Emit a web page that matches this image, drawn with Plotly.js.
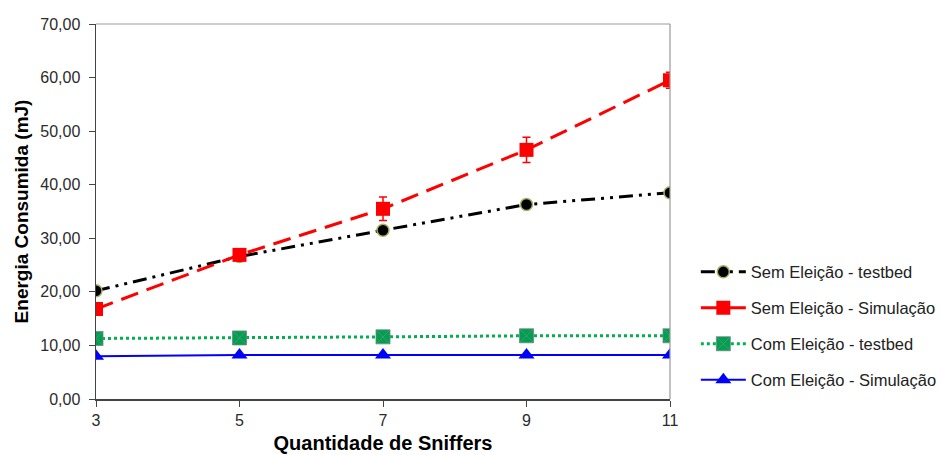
<!DOCTYPE html>
<html>
<head>
<meta charset="utf-8">
<script src="https://cdn.plot.ly/plotly-3.0.1.min.js"></script>
<style>html,body{margin:0;padding:0;background:#fff;}#chart{width:941px;height:455px;}</style>
</head>
<body>
<div id="chart"></div>
<script>
const sniffers = [3, 5, 7, 9, 11];
const semTestbed = [20.2, 26.6, 31.5, 36.3, 38.5];
const semSimulacao = [16.8, 26.9, 35.5, 46.5, 59.5];
const semSimulacaoErr = [0, 0.8, 2.2, 2.35, 1.5];
const comTestbed = [11.3, 11.4, 11.6, 11.8, 11.8];
const comSimulacao = [8.0, 8.2, 8.2, 8.2, 8.2];
const names = ['Sem Eleição - testbed', 'Sem Eleição - Simulação', 'Com Eleição - testbed', 'Com Eleição - Simulação'];

const traces = [
  {x: sniffers, y: semTestbed, name: names[0], legendgroup: 'a', mode: 'lines+markers',
   line: {color: '#000', width: 3, dash: '14px,6px,3px,6px,3px,6px'},
   marker: {symbol: 'circle', size: 12, color: '#000', line: {color: '#a8b060', width: 1.5}}},
  {x: sniffers, y: semSimulacao, name: names[1], legendgroup: 'b', mode: 'lines+markers',
   line: {color: '#ff0000', width: 3, dash: '18px,9px'},
   marker: {symbol: 'square', size: 14, color: '#ff0000'},
   error_y: {type: 'data', array: semSimulacaoErr, visible: true, color: '#ff0000', thickness: 1.5, width: 4}},
  {x: sniffers, y: comTestbed, name: names[2], legendgroup: 'c', mode: 'lines+markers',
   line: {color: '#00b050', width: 3, dash: 'dot'},
   marker: {symbol: 'square-x', size: 14, color: '#00a050', line: {color: '#6a8a80', width: 0.8}}},
  {x: sniffers, y: comSimulacao, name: names[3], legendgroup: 'd', mode: 'lines+markers',
   line: {color: '#0000ff', width: 2},
   marker: {symbol: 'triangle-up', size: 14, color: '#0000ff'}}
];

const layout = {
  width: 941, height: 455,
  margin: {l: 96, r: 271, t: 24, b: 56, autoexpand: false},
  paper_bgcolor: '#fff', plot_bgcolor: '#fff',
  separators: ',.',
  font: {family: 'Liberation Sans, Arial, sans-serif', size: 16, color: '#2b2b2b'},
  showlegend: true,
  legend: {x: 1.045, y: 0.385, xanchor: 'left', yanchor: 'top',
           font: {size: 16.5, color: '#222'}, traceorder: 'grouped', tracegroupgap: 11.5, itemwidth: 45,
           bgcolor: 'rgba(0,0,0,0)'},
  xaxis: {range: [3, 11], tickvals: sniffers, ticktext: sniffers.map(String),
          showgrid: false, zeroline: false, showline: true, linecolor: '#444', linewidth: 1.5,
          ticks: 'outside', ticklen: 6, tickcolor: '#444', mirror: false,
          tickfont: {size: 16, color: '#2b2b2b'},
          title: {text: '<b>Quantidade de Sniffers</b>', font: {size: 20, color: '#000'}, standoff: 8}},
  yaxis: {range: [0, 70], dtick: 10, tickformat: '.2f',
          showgrid: false, zeroline: false, showline: true, linecolor: '#444', linewidth: 1.5,
          ticks: 'outside', ticklen: 6, tickcolor: '#444', ticklabelstandoff: 5,
          tickfont: {size: 16, color: '#2b2b2b'},
          title: {text: '<b>Energia Consumida (mJ)</b>', font: {size: 19, color: '#000'}, standoff: 6}},
  shapes: [
    {type: 'line', xref: 'paper', yref: 'paper', x0: 0, x1: 1, y0: 1, y1: 1, line: {color: '#999', width: 1.2}},
    {type: 'line', xref: 'paper', yref: 'paper', x0: 1, x1: 1, y0: 0, y1: 1, line: {color: '#999', width: 1.2}}
  ]
};

Plotly.newPlot('chart', traces, layout, {displayModeBar: false, staticPlot: true});
</script>
</body>
</html>
